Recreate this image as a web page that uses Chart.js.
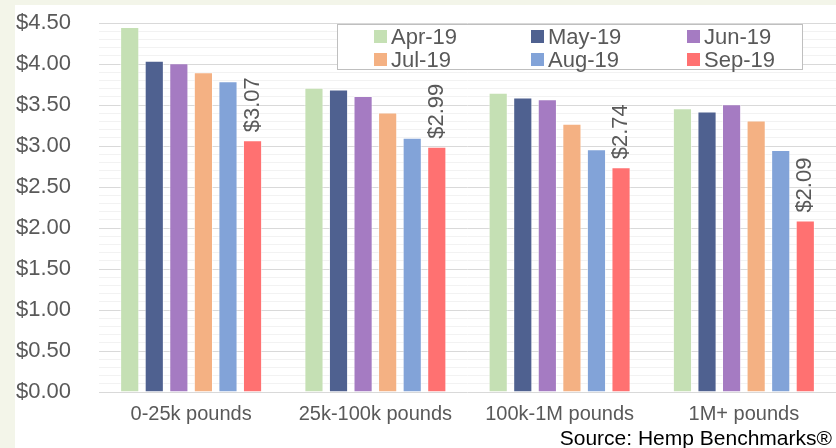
<!DOCTYPE html>
<html>
<head>
<meta charset="utf-8">
<script src="https://cdn.jsdelivr.net/npm/chart.js@4.4.1/dist/chart.umd.min.js"></script>
<style>
  html, body { margin: 0; padding: 0; }
  body { width: 836px; height: 448px; background: #f3f5e9; position: relative; overflow: hidden; font-family: "Liberation Sans", Arial, sans-serif; }
  #title { position: absolute; left: 0; width: 836px; top: -29px; text-align: center; padding-left: 200px; box-sizing: border-box;
           font-weight: bold; font-size: 26px; line-height: 30px; color: #a0262e; white-space: nowrap; }
  #panel { position: absolute; left: 15px; top: 5px; width: 821px; height: 443px; background: #ffffff; }
  #legend { position: absolute; left: 337px; top: 24px; width: 466px; height: 46px; background: #fff; border: 1px solid #bfbfbf;
            display: grid; grid-template-columns: 157px 156px 150px; grid-auto-rows: 23px; padding-left: 36px; box-sizing: border-box; }
  #legend .item { display: flex; align-items: center; font-size: 22px; color: #595959; white-space: nowrap; }
  #legend .sw { width: 13px; height: 13px; margin-right: 4px; flex: none; }
  #source { position: absolute; right: 4px; top: 425px; font-size: 21px; line-height: 25px; color: #000; }
</style>
</head>
<body>
<div id="title">Biomass Average Pricing (Hemp Benchmarks)</div>
<div id="panel"><canvas id="chart"></canvas></div>
<div id="legend"></div>
<div id="source">Source: Hemp Benchmarks®</div>
<script>
// ข้อมูลกราฟ
const categories = ['0-25k pounds', '25k-100k pounds', '100k-1M pounds', '1M+ pounds'];
const months = ['Apr-19', 'May-19', 'Jun-19', 'Jul-19', 'Aug-19', 'Sep-19'];
const apr19 = [4.45, 3.71, 3.65, 3.46];
const may19 = [4.04, 3.69, 3.59, 3.42];
const jun19 = [4.01, 3.61, 3.57, 3.51];
const jul19 = [3.90, 3.41, 3.27, 3.31];
const aug19 = [3.79, 3.10, 2.96, 2.95];
const sep19 = [3.07, 2.99, 2.74, 2.09];
const colors = ['#c5e0b4', '#4f6190', '#a57bc2', '#f4b183', '#82a3d8', '#ff7171'];

const seriesValues = [apr19, may19, jun19, jul19, aug19, sep19];
const textColor = '#595959';
const fontFamily = '"Liberation Sans", Arial, sans-serif';

// ป้ายตัวเลขแนวตั้งเหนือแท่ง Sep-19
const sepLabels = {
    id: 'sepLabels',
    afterDatasetsDraw(chart) {
        const ctx = chart.ctx;
        const last = chart.data.datasets.length - 1;
        const meta = chart.getDatasetMeta(last);
        ctx.save();
        ctx.font = '22px ' + fontFamily;
        ctx.fillStyle = textColor;
        ctx.textAlign = 'left';
        ctx.textBaseline = 'middle';
        meta.data.forEach((bar, i) => {
            const v = chart.data.datasets[last].data[i];
            ctx.save();
            ctx.translate(bar.x, bar.y - 8);
            ctx.rotate(-Math.PI / 2);
            ctx.fillText('$' + v.toFixed(2), 0, 0);
            ctx.restore();
        });
        ctx.restore();
    }
};

const chart = new Chart(document.getElementById('chart'), {
    type: 'bar',
    data: {
        labels: categories,
        datasets: months.map((m, i) => ({
            label: m,
            data: seriesValues[i],
            backgroundColor: colors[i],
            borderColor: 'rgba(255,255,255,0.55)',
            borderWidth: 1,
            categoryPercentage: 0.8,
            barPercentage: 0.78
        }))
    },
    options: {
        responsive: true,
        maintainAspectRatio: false,
        animation: false,
        layout: { padding: { top: 18, bottom: 12, left: 1, right: 0 } },
        plugins: {
            legend: { display: false },
            tooltip: { enabled: false }
        },
        scales: {
            x: {
                grid: { display: false, drawTicks: false },
                border: { display: false },
                ticks: { color: textColor, padding: 10, font: { size: 20, family: fontFamily } }
            },
            y: {
                min: 0,
                max: 4.5,
                border: { display: false },
                afterFit: s => { s.width = 83; },
                grid: {
                    drawTicks: false,
                    color: c => (Math.round(c.tick.value * 10) % 5 === 0 ? '#d9d9d9' : '#f2f2f2')
                },
                ticks: {
                    stepSize: 0.1,
                    autoSkip: false,
                    padding: 0,
                    crossAlign: 'far',
                    color: textColor,
                    font: { size: 22, family: fontFamily },
                    callback: v => (Math.round(v * 10) % 5 === 0 ? '$' + v.toFixed(2) : '')
                }
            }
        }
    },
    plugins: [sepLabels]
});

// สร้างคำอธิบายสัญลักษณ์จากชุดข้อมูล
const legendEl = document.getElementById('legend');
chart.data.datasets.forEach(ds => {
    const item = document.createElement('div');
    item.className = 'item';
    item.innerHTML = '<span class="sw" style="background:' + ds.backgroundColor + '"></span>' + ds.label;
    legendEl.appendChild(item);
});
</script>
</body>
</html>
